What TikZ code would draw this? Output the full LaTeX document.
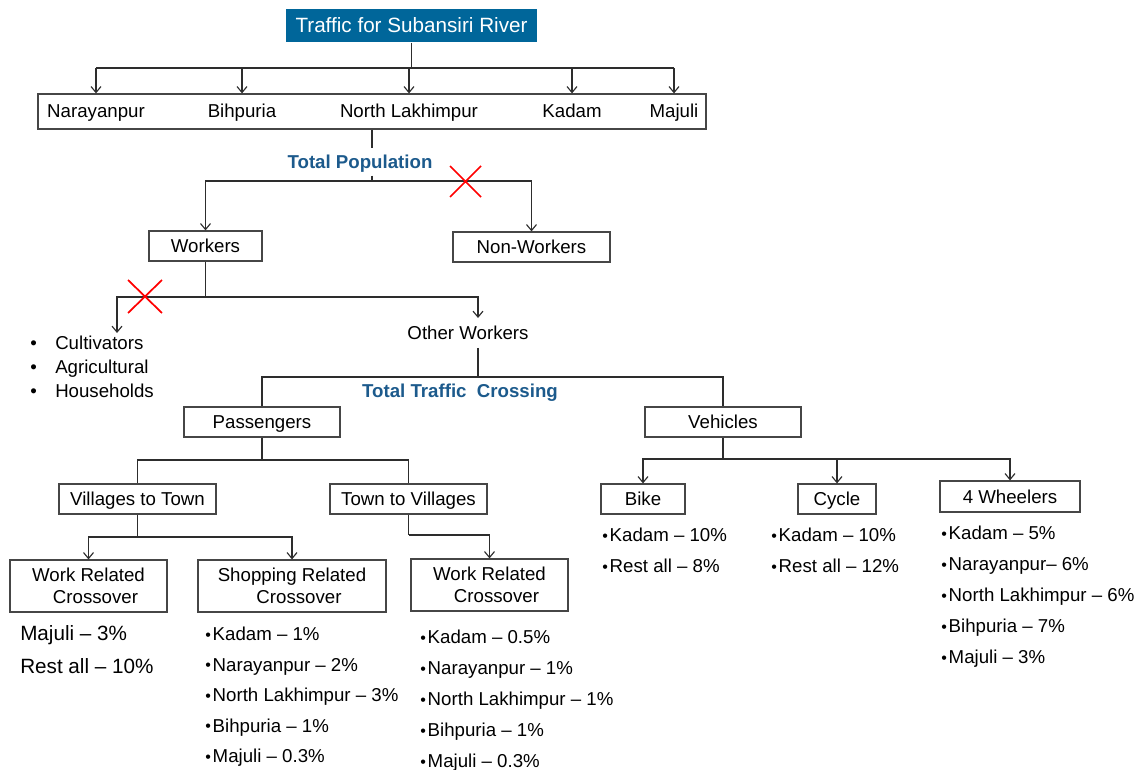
\documentclass[tikz,border=0pt]{standalone}
\usepackage{fontspec}
\setmainfont{Liberation Sans}
\usetikzlibrary{arrows.meta}
\definecolor{titleblue}{RGB}{0,102,154}
\definecolor{labelblue}{RGB}{28,90,140}
\definecolor{linegray}{RGB}{45,45,45}
\definecolor{boxgray}{RGB}{70,70,70}
\newcommand\mybul{\raisebox{0.3pt}{\fontsize{12}{12}\selectfont •}\hspace{1.4pt}}
\newcommand\bigbul{\makebox[18.75pt][l]{•}}
\begin{document}
\begin{tikzpicture}[x=0.75pt,y=-0.75pt,
  box/.style={draw=boxgray, line width=0.9pt, inner sep=0pt, align=center, font=\fontsize{14}{16.5}\selectfont},
  one/.style={text height=10pt, text depth=0pt},
  txt/.style={inner sep=0pt, font=\fontsize{14}{16.5}\selectfont},
  conn/.style={draw=linegray, line width=0.85pt},
  arr/.style={conn, -{Straight Barb[length=4.5pt,width=7.5pt]}},
  item/.style={anchor=base west, inner sep=0pt, font=\fontsize{14}{16.5}\selectfont},
  bigitem/.style={anchor=base west, inner sep=0pt, font=\fontsize{15.5}{18}\selectfont},
  blab/.style={inner sep=2pt, one, text=labelblue, font=\fontsize{14}{16}\selectfont\bfseries},
  cross/.style={draw=red, line width=1.3pt}]
\useasboundingbox (0,0) rectangle (1146,770);

% title and cities
\node[box, text height=11.1pt, text depth=0pt, fill=titleblue, draw=none, text=white, font=\fontsize{15.5}{18}\selectfont,
      minimum width=251*.75pt, minimum height=33*.75pt] (title) at (411.5,25.5) {Traffic for Subansiri River};
\node[box, minimum width=668*.75pt, minimum height=35*.75pt] (citybox) at (372,111.5) {};
\node[txt, anchor=base] (narayanpur) at (96,118) {Narayanpur};
\node[txt, anchor=base] (bihpuria) at (242,118) {Bihpuria};
\node[txt, anchor=base] (northl) at (409,118) {North Lakhimpur};
\node[txt, anchor=base] (kadam) at (572,118) {Kadam};
\node[txt, anchor=base] (majuli) at (674,118) {Majuli};
\coordinate (bar1) at (0,68);
\draw[conn] (title.south) -- (title.south |- bar1);
\draw[conn] (narayanpur |- bar1) -- (majuli |- bar1);
\foreach \c in {narayanpur,bihpuria,northl,kadam,majuli}
  \draw[arr] (\c |- bar1) -- (\c |- citybox.north);

% total population
\node[blab, inner sep=5pt] (totpop) at (360,162) {Total Population};
\node[box, one, minimum width=113*.75pt, minimum height=30*.75pt] (workers) at (205.5,246) {Workers};
\node[box, one, minimum width=157*.75pt, minimum height=30*.75pt] (nonworkers) at (531.5,247) {Non-Workers};
\coordinate (p1) at (372,181);
\draw[conn] (citybox.south -| p1) -- (totpop.north -| p1);
\draw[conn] (totpop.south -| p1) -- (p1);
\draw[arr] (p1) -| (workers.north);
\draw[arr] (p1) -| (nonworkers.north);
\draw[cross] (450,166) -- (481,197) (450,197) -- (481,166);

% workers split
\node[txt, one, inner sep=6pt] (otherw) at (468,333) {Other Workers};
\coordinate (p2) at (205.5,297);
\coordinate (cultin) at (117,333);
\coordinate (owin) at (478,318);
\draw[conn] (workers.south) -- (p2);
\draw[arr] (p2) -| (cultin);
\draw[arr] (p2) -| (owin);
\draw[cross] (128,280) -- (162,313) (128,313) -- (162,280);
\node[item] (cult) at (30,349) {\bigbul Cultivators};
\node[item] (agri) at (30,373) {\bigbul Agricultural};
\node[item] (hous) at (30,397) {\bigbul Households};

% total traffic crossing
\node[blab] (ttc) at (460,391) {Total Traffic\ \ Crossing};
\node[box, one, minimum width=156*.75pt, minimum height=30*.75pt] (passengers) at (262,422) {Passengers};
\node[box, one, minimum width=156*.75pt, minimum height=30*.75pt] (vehicles) at (723,422) {Vehicles};
\coordinate (p3) at (478,377);
\draw[conn] (otherw.south -| p3) -- (p3);
\draw[conn] (p3) -| (passengers.north);
\draw[conn] (p3) -| (vehicles.north);

% passengers
\node[box, one, minimum width=157*.75pt, minimum height=30*.75pt] (v2t) at (137.5,499) {Villages to Town};
\node[box, one, minimum width=157*.75pt, minimum height=30*.75pt] (t2v) at (408.5,499) {Town to Villages};
\coordinate (p4) at (262,460);
\draw[conn] (passengers.south) -- (p4);
\draw[conn] (p4) -| (v2t.north);
\draw[conn] (p4) -| (t2v.north);

\node[box, minimum width=157*.75pt, minimum height=52*.75pt] (wrc1) at (88.5,586) {Work Related\\\hspace*{0.75em}Crossover};
\node[box, minimum width=188*.75pt, minimum height=52*.75pt] (src) at (292,586) {Shopping Related\\\hspace*{0.75em}Crossover};
\node[box, minimum width=157*.75pt, minimum height=52*.75pt] (wrc2) at (489.5,585) {Work Related\\\hspace*{0.75em}Crossover};
\coordinate (p5) at (137.5,537);
\draw[conn] (v2t.south) -- (p5);
\draw[arr] (p5) -| (wrc1.north);
\draw[arr] (p5) -| (src.north);
\coordinate (p6) at (408.5,535);
\draw[conn] (t2v.south) -- (p6);
\draw[arr] (p6) -| (wrc2.north);

% vehicles
\node[box, one, minimum width=84*.75pt, minimum height=30*.75pt] (bike) at (643,499) {Bike};
\node[box, one, minimum width=78*.75pt, minimum height=30*.75pt] (cycle) at (837,499) {Cycle};
\node[box, one, minimum width=140*.75pt, minimum height=31*.75pt] (fourw) at (1010,496.5) {4 Wheelers};
\coordinate (p7) at (723,459);
\draw[conn] (vehicles.south) -- (p7);
\draw[arr] (p7) -| (bike.north);
\draw[arr] (p7) -| (cycle.north);
\draw[arr] (p7) -| (fourw.north);

% lists
\node[bigitem] (l1) at (20,640.5) {Majuli – 3\%};
\node[bigitem] (l2) at (20,673.5) {Rest all – 10\%};
\foreach \t [count=\i] in {Kadam – 1\%, Narayanpur – 2\%, North Lakhimpur – 3\%, Bihpuria – 1\%, Majuli – 0.3\%}
  \node[item] (s\i) at (205,{640.5+30.5*(\i-1)}) {\mybul\t};
\foreach \t [count=\i] in {Kadam – 0.5\%, Narayanpur – 1\%, North Lakhimpur – 1\%, Bihpuria – 1\%, Majuli – 0.3\%}
  \node[item] (w\i) at (420,{643.5+31*(\i-1)}) {\mybul\t};
\foreach \t [count=\i] in {Kadam – 10\%, Rest all – 8\%}
  \node[item] (b\i) at (602,{541.5+31*(\i-1)}) {\mybul\t};
\foreach \t [count=\i] in {Kadam – 10\%, Rest all – 12\%}
  \node[item] (c\i) at (771,{541.5+31*(\i-1)}) {\mybul\t};
\foreach \t [count=\i] in {Kadam – 5\%, Narayanpur– 6\%, North Lakhimpur – 6\%, Bihpuria – 7\%, Majuli – 3\%}
  \node[item] (f\i) at (941,{539.5+31*(\i-1)}) {\mybul\t};
\end{tikzpicture}
\end{document}
